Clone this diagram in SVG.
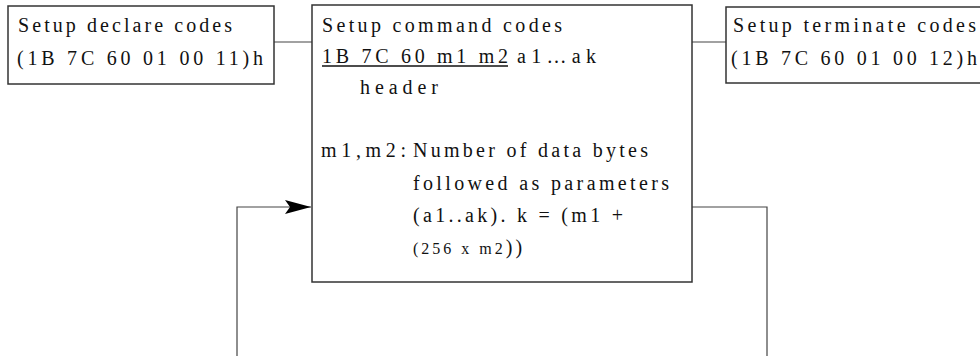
<svg xmlns="http://www.w3.org/2000/svg" width="980" height="356" viewBox="0 0 980 356">
<style>
.box{fill:#fff;stroke:#333;stroke-width:1.5}
.t{font-family:"Liberation Serif","Times New Roman",serif;font-size:20px;fill:#111}
.s{font-size:16px}
.c{fill:none;stroke:#444;stroke-width:1.2}
.u{stroke:#111;stroke-width:1.3}
</style>
<defs>
<marker id="ah" markerWidth="26" markerHeight="14" refX="26" refY="7" orient="auto" markerUnits="userSpaceOnUse">
<path d="M0,0 L26,7 L0,14 L5,7 Z" fill="#000"/>
</marker>
</defs>
<rect width="980" height="356" fill="#fff"/>
<g id="connectors">
<line class="c" x1="274" y1="42" x2="312" y2="42"/>
<line class="c" x1="692" y1="42" x2="726" y2="42"/>
<polyline class="c" points="237,356 237,207 311,207" marker-end="url(#ah)"/>
<polyline class="c" points="692,207 767,207 767,356"/>
</g>
<g id="declare">
<rect class="box" x="8" y="6" width="266" height="78"/>
<text class="t" x="18" y="32" textLength="214">Setup declare codes</text>
<text class="t" x="17" y="65" textLength="246">(1B 7C 60 01 00 11)h</text>
</g>
<g id="command">
<rect class="box" x="312" y="5" width="380" height="277"/>
<text class="t" x="322" y="32" textLength="240">Setup command codes</text>
<text class="t" x="322" y="63" textLength="186">1B 7C 60 m1 m2</text>
<line class="u" x1="322" y1="66" x2="508" y2="66"/>
<text class="t" x="517" y="63" textLength="79">a1…ak</text>
<text class="t" x="360" y="94" textLength="78">header</text>
<text class="t" x="321" y="157" textLength="85">m1,m2:</text>
<text class="t" x="413" y="157" textLength="235">Number of data bytes</text>
<text class="t" x="413" y="190" textLength="256">followed as parameters</text>
<text class="t" x="413" y="222" textLength="210">(a1..ak). k = (m1 +</text>
<text class="t" x="413" y="254"><tspan class="s" letter-spacing="3">(256 x m2</tspan><tspan letter-spacing="3">))</tspan></text>
</g>
<g id="terminate">
<rect class="box" x="726" y="7" width="270" height="76"/>
<text class="t" x="733" y="32" textLength="243">Setup terminate codes</text>
<text class="t" x="731" y="65" textLength="246">(1B 7C 60 01 00 12)h</text>
</g>
</svg>
